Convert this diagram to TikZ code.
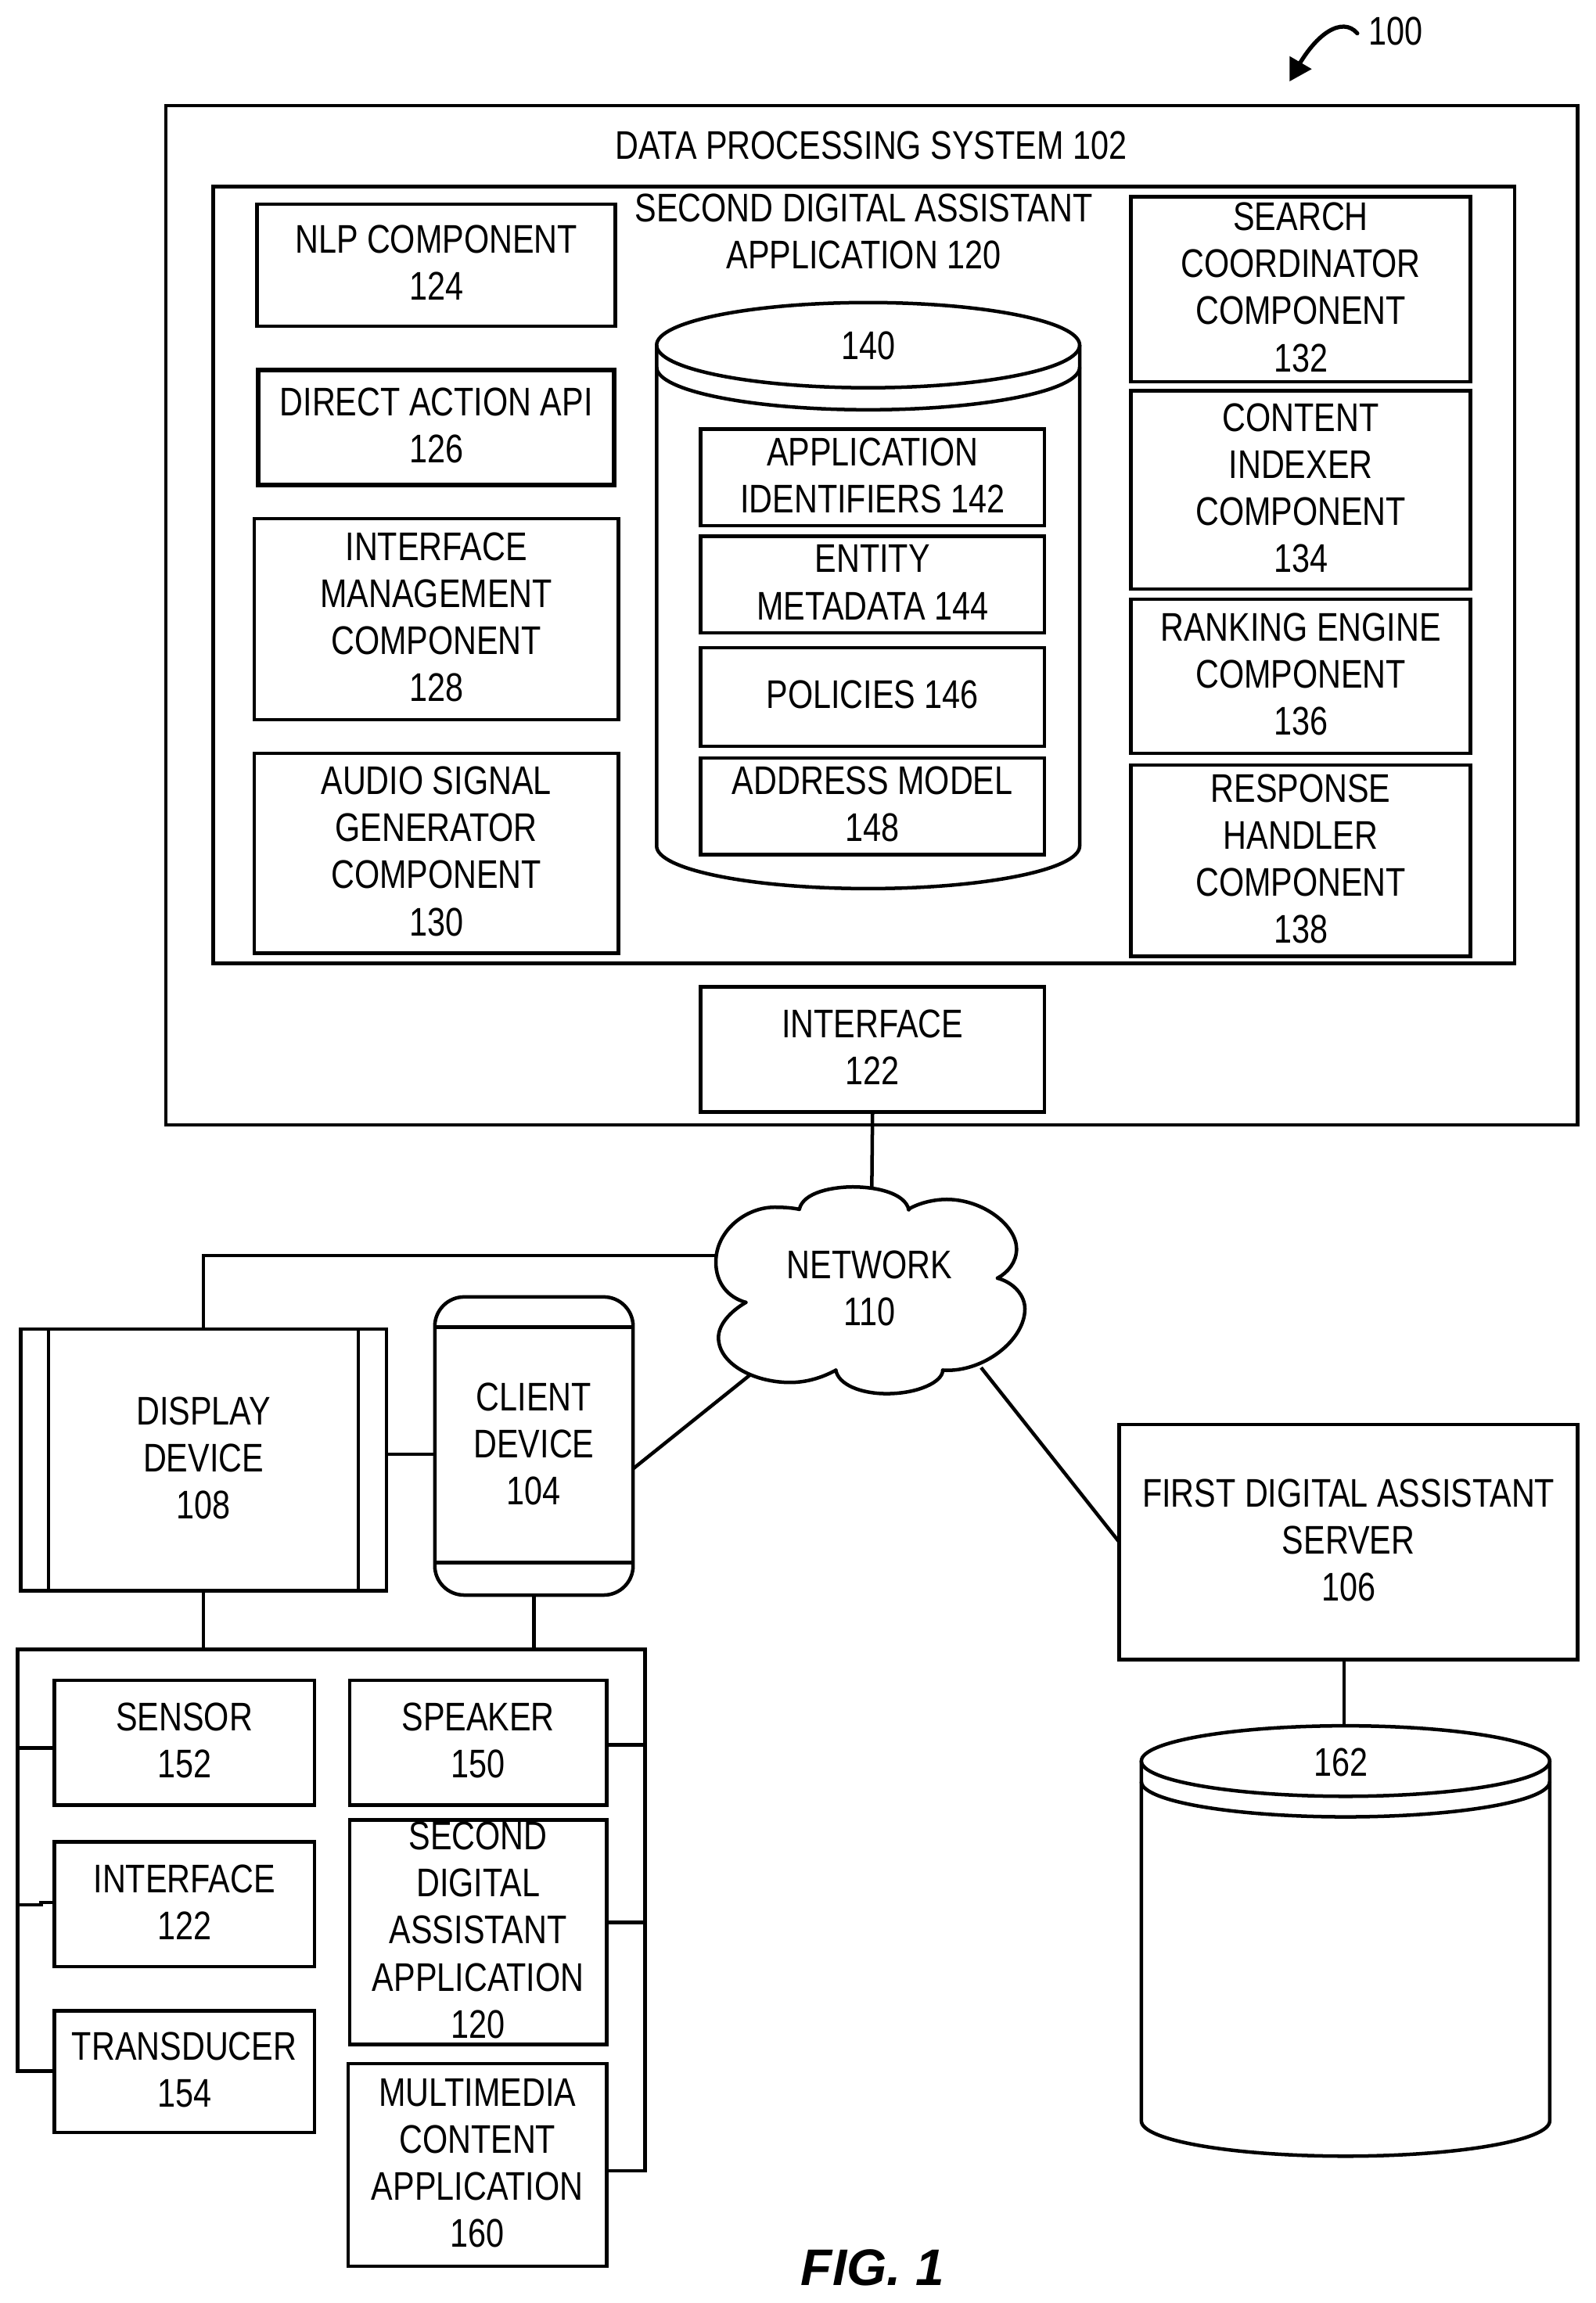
\documentclass[tikz,border=0pt]{standalone}
\usepackage{fontspec}
\setmainfont{Liberation Sans}[FakeStretch=0.81]
\newfontfamily\figfont{Liberation Sans}
\tikzset{
  x=1pt,y=-1pt,
  every picture/.style={line width=2.4pt},
  txt/.style={inner sep=0pt,outer sep=0pt,align=center,font=\fontsize{27.2}{32}\selectfont,text depth=3pt},
  bx/.style={txt,draw,rectangle},
  bump/.style={line width=2.4pt,line cap=round}
}
\newcommand\bx[6]{%
  \pgfmathsetmacro\bcx{(#2+#4)/2}\pgfmathsetmacro\bcy{(#3+#5)/2}%
  \pgfmathsetmacro\bw{#4-#2}\pgfmathsetmacro\bh{#5-#3}%
  \node[bx,minimum width=\bw pt,minimum height=\bh pt] (#1) at (\bcx,\bcy) {#6};}
\newcommand\cyl[6]{% x1 x2 ctop ry gap sidebottom
  \pgfmathsetmacro\bcx{(#1+#2)/2}\pgfmathsetmacro\brx{(#2-#1)/2}%
  \pgfmathsetmacro\bcg{#3+#5}%
  \draw (\bcx,#3) ellipse [x radius=\brx pt,y radius=#4pt];
  \draw (#1,\bcg) arc [start angle=180,end angle=360,x radius=\brx pt,y radius=#4pt];
  \draw (#1,#3) -- (#1,#6) arc [start angle=180,end angle=360,x radius=\brx pt,y radius=#4pt] -- (#2,#3);}
\begin{document}
\begin{tikzpicture}
\useasboundingbox (0,0) rectangle (1086,1568);
\fill[white] (0,0) rectangle (1086,1568);

% reference arrow
\node[txt] (n100) at (950,22.5) {100};
\coordinate (aS) at (924,22.7);
\coordinate (aT) at (880,52);
\draw[bump,line width=2.8pt] (aS) .. controls (914,11) and (895,22) .. (aT);
\fill (877.9,55.4) -- (877.9,38.2) -- (893,47) -- cycle;

% data processing system
\bx{dps}{113}{72}{1074}{766}{}
\node[txt] (dpst) at (593,100.5) {DATA PROCESSING SYSTEM 102};
\bx{sda}{145}{127}{1031}{656}{}
\node[txt] (sdat) at (588,159) {SECOND DIGITAL ASSISTANT\\APPLICATION 120};

\bx{nlp}{175}{139}{419}{222}{NLP COMPONENT\\124}
\bx{api}{176}{252}{418}{330}{DIRECT ACTION API\\126}
\draw[line width=3.2pt] (api.south west) rectangle (api.north east);
\bx{imc}{173}{353}{421}{490}{INTERFACE\\MANAGEMENT\\COMPONENT\\128}
\bx{asg}{173}{513}{421}{649}{AUDIO SIGNAL\\GENERATOR\\COMPONENT\\130}
\bx{sch}{770}{134}{1001}{260}{SEARCH\\COORDINATOR\\COMPONENT\\132}
\bx{cix}{770}{266}{1001}{401}{CONTENT\\INDEXER\\COMPONENT\\134}
\bx{rnk}{770}{408}{1001}{513}{RANKING ENGINE\\COMPONENT\\136}
\bx{rsp}{770}{521}{1001}{651}{RESPONSE\\HANDLER\\COMPONENT\\138}

\cyl{447}{735}{235}{29}{15}{576}
\node[txt] (l140) at (591,236.5) {140};
\bx{aid}{477}{292}{711}{358}{APPLICATION\\IDENTIFIERS 142}
\bx{ent}{477}{365}{711}{431}{ENTITY\\METADATA 144}
\bx{pol}{477}{441}{711}{508}{POLICIES 146}
\bx{adr}{477}{516}{711}{582}{ADDRESS MODEL\\148}

\bx{ifc}{477}{672}{711}{757}{INTERFACE\\122}

% network cloud
\begin{scope}[shift={(468.7pt,-788.2pt)},x=0.17753pt,y=-0.17753pt]
\draw[bump] (425,198) .. controls (440,130) and (560,112) .. (630,112) .. controls (720,112) and (830,135) .. (845,200);
\draw[bump] (843,198) .. controls (890,170) and (950,160) .. (990,160) .. controls (1130,160) and (1258,260) .. (1258,350) .. controls (1258,400) and (1225,440) .. (1185,462);
\draw[bump] (1185,462) .. controls (1250,480) and (1290,530) .. (1290,580) .. controls (1290,700) and (1130,825) .. (975,815);
\draw[bump] (975,815) .. controls (975,860) and (880,905) .. (760,905) .. controls (660,905) and (575,870) .. (565,815);
\draw[bump] (565,815) .. controls (510,845) and (450,862) .. (390,862) .. controls (250,862) and (115,790) .. (115,690) .. controls (115,640) and (160,590) .. (220,555);
\draw[bump] (220,555) .. controls (150,535) and (105,480) .. (105,400) .. controls (105,280) and (220,190) .. (330,190) .. controls (365,190) and (395,192) .. (425,198);
\coordinate (netT) at (703,115);
\coordinate (netL) at (105,375);
\coordinate (netBL) at (240,830);
\coordinate (netBR) at (1122,805);
\end{scope}
\node[txt] (net) at (592,878.5) {NETWORK\\110};

% devices
\bx{dsp}{14}{905}{263}{1083}{DISPLAY\\DEVICE\\108}
\draw (33,905) -- (33,1083);
\draw (244,905) -- (244,1083);
\node[txt,draw,rounded corners=20pt,minimum width=135pt,minimum height=203pt] (cli) at (363.5,984.5) {CLIENT\\DEVICE\\104};
\draw (296,903.5) -- (431,903.5);
\draw (296,1064) -- (431,1064);
\coordinate (cliE) at (431,1000);
\coordinate (cliW) at (296,990);
\coordinate (dspE) at (263,990);

\bx{srv}{762}{970}{1074}{1130}{FIRST DIGITAL ASSISTANT\\SERVER\\106}
\cyl{777}{1055}{1199}{24}{14}{1444}
\node[txt] (l162) at (913,1201.5) {162};
\coordinate (srvB) at (915,1130);
\coordinate (cylT) at (915,1175);

% component group
\coordinate (busTL) at (12,1123);
\coordinate (busTR) at (439,1123);
\bx{sen}{37}{1144}{214}{1229}{SENSOR\\152}
\bx{if2}{37}{1254}{214}{1339}{INTERFACE\\122}
\bx{trd}{37}{1369}{214}{1452}{TRANSDUCER\\154}
\bx{spk}{238}{1144}{413}{1229}{SPEAKER\\150}
\bx{sd2}{238}{1239}{413}{1392}{SECOND\\DIGITAL\\ASSISTANT\\APPLICATION\\120}
\bx{mmc}{237}{1405}{413}{1543}{MULTIMEDIA\\CONTENT\\APPLICATION\\160}

% connectors
\draw (ifc.south) -- (netT);
\draw (dsp.north) |- (netL);
\draw (dspE) -- (cliW);
\draw (cliE) -- (netBL);
\draw (netBR) -- (srv.west);
\draw (srvB) -- (cylT);
\draw (dsp.south) -- (dsp.south |- busTL);
\draw (cli.south) -- (cli.south |- busTL);
\draw (trd.west |- 0,1410) -| (busTL) -- (busTR) |- (mmc.east |- 0,1478);
\draw (12,1190) -- (sen.west |- 0,1190);
\draw (12,1297) -- (28,1297) -- (28,1295.3) -- (if2.west |- 0,1295.3);
\draw (439,1188) -- (spk.east |- 0,1188);
\draw (439,1309) -- (sd2.east |- 0,1309);

\node[inner sep=0pt,font=\figfont\bfseries\itshape\fontsize{35}{40}\selectfont] (fig) at (594,1544) {FIG. 1};
\end{tikzpicture}
\end{document}
